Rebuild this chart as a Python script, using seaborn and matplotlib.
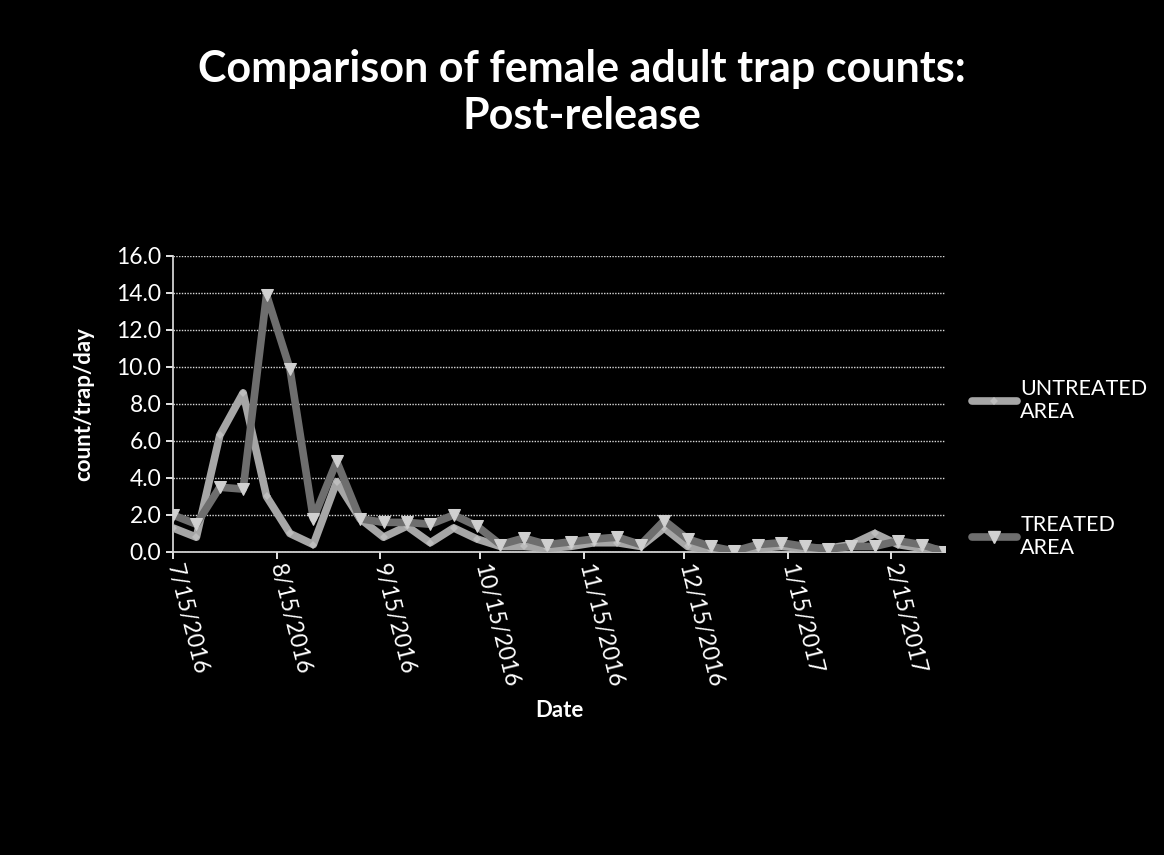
import datetime as dt

import matplotlib
matplotlib.use("Agg")
import matplotlib.pyplot as plt
import matplotlib.dates as mdates
from matplotlib.ticker import FuncFormatter, MultipleLocator
from matplotlib.lines import Line2D
import pandas as pd
import seaborn as sns

# weekly trap dates
start = dt.date(2016, 7, 15)
dates = [start + dt.timedelta(days=7 * i) for i in range(34)]

untreated = [1.3, 0.8, 6.3, 8.6, 3.0, 1.0, 0.4, 3.8, 1.8, 0.8,
             1.4, 0.5, 1.3, 0.7, 0.3, 0.3, 0.2, 0.3, 0.5, 0.5,
             0.3, 1.3, 0.3, 0.1, 0.1, 0.2, 0.3, 0.2, 0.2, 0.4,
             1.0, 0.4, 0.2, 0.1]
treated = [2.0, 1.5, 3.5, 3.4, 13.9, 9.9, 1.8, 4.9, 1.8, 1.6,
           1.6, 1.5, 2.0, 1.4, 0.4, 0.75, 0.4, 0.55, 0.7, 0.8,
           0.4, 1.7, 0.7, 0.3, 0.05, 0.4, 0.5, 0.3, 0.15, 0.3,
           0.3, 0.6, 0.4, 0.0]

df = pd.DataFrame({"date": pd.to_datetime(dates),
                   "untreated": untreated,
                   "treated": treated})

sns.set_theme(style="dark")
plt.rcParams["font.family"] = ["Lato", "DejaVu Sans"]
plt.rcParams["figure.facecolor"] = "black"
plt.rcParams["axes.facecolor"] = "black"

fig = plt.figure(figsize=(11.64, 8.55), dpi=100)
ax = fig.add_axes([0.1486, 0.3544, 0.6632, 0.3462])

untreated_color = "#a6a6a6"
treated_color = "#6e6e6e"

sns.lineplot(data=df, x="date", y="untreated", ax=ax, color=untreated_color,
             linewidth=5.5, marker="D", markersize=4, markerfacecolor="#bdbdbd",
             markeredgewidth=0, zorder=3)
sns.lineplot(data=df, x="date", y="treated", ax=ax, color=treated_color,
             linewidth=5.5, marker="v", markersize=8, markerfacecolor="#d0d0d0",
             markeredgecolor="#d0d0d0", zorder=4)

# axes
ax.set_ylim(0, 16)
ax.set_xlim(df["date"].iloc[0], df["date"].iloc[-1])
ax.yaxis.set_major_locator(MultipleLocator(2))
ax.yaxis.set_major_formatter(FuncFormatter(lambda v, p: f"{v:.1f}"))
ax.xaxis.set_major_locator(mdates.MonthLocator(bymonthday=15))
ax.xaxis.set_major_formatter(
    FuncFormatter(lambda v, p: "{d.month}/{d.day}/{d.year}".format(d=mdates.num2date(v))))

ax.grid(axis="y", color="#d9d9d9", linestyle=(0, (1, 1)), linewidth=1.0)
ax.grid(axis="x", visible=False)
for side in ["top", "right"]:
    ax.spines[side].set_visible(False)
ax.spines["left"].set_color("#d9d9d9")
ax.spines["bottom"].set_color("#d9d9d9")
ax.tick_params(axis="both", colors="white", labelsize=16.5, length=5,
               direction="out", bottom=True, left=True)
plt.setp(ax.get_xticklabels(), rotation=-76, rotation_mode="anchor",
         ha="left", va="center")

ax.set_xlabel("Date", fontsize=16, fontweight="bold", color="white", labelpad=8)
ax.set_ylabel("count/trap/day", fontsize=16, fontweight="bold", color="white", labelpad=16)

fig.text(0.5, 0.892, "Comparison of female adult trap counts:\nPost-release",
         ha="center", va="center", fontsize=31, fontweight="bold", color="white",
         linespacing=1.2)

# legend on the right
handles = [
    Line2D([], [], color=untreated_color, linewidth=5.5, marker="D", markersize=4,
           markerfacecolor="#bdbdbd", markeredgewidth=0),
    Line2D([], [], color=treated_color, linewidth=5.5, marker="v", markersize=8,
           markerfacecolor="#d0d0d0", markeredgecolor="#d0d0d0"),
]
leg = fig.legend(handles, ["UNTREATED\nAREA", "TREATED\nAREA"],
                 loc="center left", bbox_to_anchor=(0.822, 0.452),
                 frameon=False, fontsize=15.5, labelspacing=4.3,
                 handlelength=2.1, handletextpad=0.15, borderpad=0.2,
                 labelcolor="white")

fig.savefig("out.png", dpi=100, facecolor="black")
